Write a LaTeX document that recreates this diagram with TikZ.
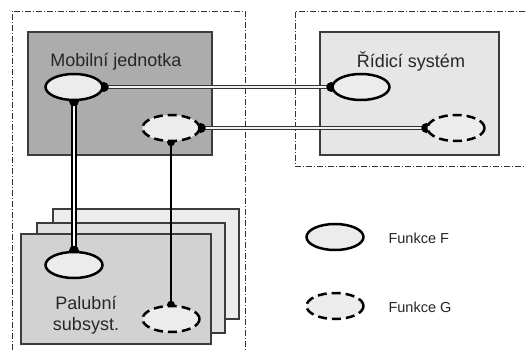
\documentclass[tikz,border=0pt]{standalone}
\usepackage{fontspec}
\setmainfont{Liberation Sans}
\usetikzlibrary{shapes.geometric}
\pgfdeclarelayer{bg}
\pgfdeclarelayer{fg}
\pgfsetlayers{bg,main,fg}
\definecolor{mobfill}{RGB}{172,172,172}
\definecolor{ridfill}{RGB}{230,230,230}
\definecolor{palfront}{RGB}{210,210,210}
\definecolor{palmid}{RGB}{224,224,224}
\definecolor{palback}{RGB}{236,236,236}
\definecolor{ellfill}{RGB}{236,236,236}
\definecolor{boxline}{RGB}{60,60,60}
\tikzset{
  outerbox/.style={draw=black!80, line width=0.9pt, dash pattern=on 6pt off 2pt on 1pt off 2pt},
  sysbox/.style={draw=boxline, line width=1.5pt, rectangle, inner sep=0pt},
  funcF/.style={shape=ellipse, draw=black, line width=2.5pt, fill=ellfill, inner sep=0pt, minimum width=57pt, minimum height=26pt},
  funcG/.style={funcF, dash pattern=on 9pt off 5pt},
  bigtext/.style={font=\fontsize{18}{21.5}\selectfont, text=black!85, align=center},
  legtext/.style={font=\fontsize{14.5}{17}\selectfont, text=black!85, anchor=west},
  vdouble/.style={draw=black, line width=1.8pt, double=white, double distance=2.4pt},
  hdouble/.style={draw=black!80, line width=1.4pt, double=black!5, double distance=1.8pt},
  vsingle/.style={draw=black, line width=1.5pt},
  capdot/.style={fill=black},
}
\begin{document}
\begin{tikzpicture}[x=1pt,y=-1pt]
\useasboundingbox (0,0) rectangle (525,350);
\begin{pgfonlayer}{bg}
  \fill[white] (0,0) rectangle (525,350);
  % outer dash-dot frames
  \draw[outerbox] (12,350) -- (12,11) -- (245,11) -- (245,350);
  \draw[outerbox] (525,11) -- (295,11) -- (295,166) -- (525,166);
  % system boxes
  \node[sysbox, fill=mobfill, minimum width=184pt, minimum height=123pt] (mob) at (120,93.5) {};
  \node[sysbox, fill=ridfill, minimum width=179pt, minimum height=123pt] (rid) at (409.5,93.5) {};
  \node[sysbox, fill=palback, minimum width=186pt, minimum height=110pt] (palB) at (146,264) {};
  \node[sysbox, fill=palmid, minimum width=188pt, minimum height=110pt] (palM) at (131,278) {};
  \node[sysbox, fill=palfront, minimum width=190pt, minimum height=110pt] (palF) at (116,289) {};
  \node[bigtext] (mobtxt) at (116,62) {Mobilní jednotka};
  \node[bigtext] (ridtxt) at (411,62) {Řídicí systém};
  \node[bigtext] (paltxt) at (86,315) {Palubní\\subsyst.};
\end{pgfonlayer}
\begin{pgfonlayer}{fg}
  \node[funcF] (mF) at (74,87) {};
  \node[funcG] (mG) at (171,128) {};
  \node[funcF] (rF) at (361,87) {};
  \node[funcG] (rG) at (456,128) {};
  \node[funcF] (pF) at (74,265) {};
  \node[funcG] (pG) at (171,319) {};
  \node[funcF] (lF) at (335,237) {};
  \node[funcG] (lG) at (335,306) {};
  \node[legtext] (lFt) at (385,238) {Funkce F};
  \node[legtext] (lGt) at (385,307) {Funkce G};
\end{pgfonlayer}
% connectors
\draw[hdouble] (mF.east) -- (rF.west);
\draw[hdouble] (mG.east) -- (rG.west);
\draw[vdouble] (mF.south) -- (pF.north);
\draw[vsingle] (mG.south) -- (pG.north);
% end caps
\fill[capdot] (mF.east) circle (5);
\fill[capdot] (rF.west) circle (5);
\fill[capdot] (mG.east) circle (5);
\fill[capdot] (rG.west) circle (5);
\fill[capdot] (mF.south) circle (5);
\fill[capdot] (pF.north) circle (5);
\fill[capdot] (mG.south) circle (4);
\fill[capdot] (pG.north) circle (4);
\end{tikzpicture}
\end{document}
